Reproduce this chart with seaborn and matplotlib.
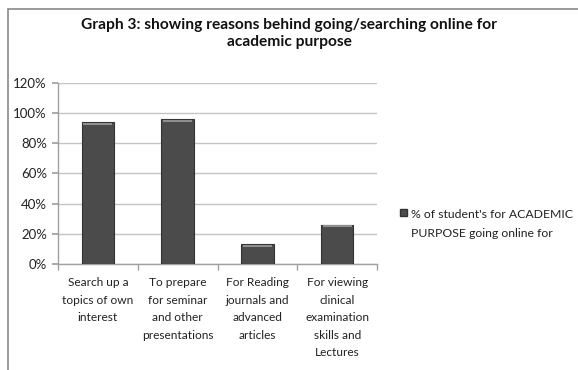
import matplotlib
matplotlib.use("Agg")
import matplotlib.pyplot as plt
import matplotlib.patches as mpatches
from matplotlib.offsetbox import HPacker
from matplotlib.ticker import FixedLocator, FuncFormatter
import seaborn as sns
import pandas as pd

# Reasons students go online for academic purposes
categories = [
    "Search up a\ntopics of own\ninterest",
    "To prepare\nfor seminar\nand other\npresentations",
    "For Reading\njournals and\nadvanced\narticles",
    "For viewing\nclinical\nexamination\nskills and\nLectures",
]
percent = [94, 96, 13, 26]
series_name = "% of student's for ACADEMIC\nPURPOSE going online for"
y_ticks = [0, 20, 40, 60, 80, 100, 120]

df = pd.DataFrame({"reason": categories, "pct": percent})

sns.set_theme(style="white")
plt.rcParams["font.family"] = ["Lato", "DejaVu Sans"]

fig = plt.figure(figsize=(5.78, 3.70), dpi=100)
fig.patch.set_facecolor("white")
ax = fig.add_axes([0.1003, 0.2865, 0.552, 0.4892])

sns.barplot(data=df, x="reason", y="pct", color="#4b4b4b", width=0.41,
            saturation=1, edgecolor="#333333", linewidth=0.8, ax=ax, zorder=3)

# light cap along the top of each bar
for p in ax.patches:
    x0, w, h = p.get_x(), p.get_width(), p.get_height()
    ax.plot([x0 + 0.06 * w, x0 + 0.94 * w], [h - 0.9, h - 0.9],
            color="#8f8f8f", lw=1.5, solid_capstyle="butt", zorder=4)

ax.set_ylim(0, 120)
ax.set_xlim(-0.5, len(categories) - 0.5)
ax.yaxis.set_major_locator(FixedLocator(y_ticks))
ax.yaxis.set_major_formatter(FuncFormatter(lambda v, _: f"{int(v)}%"))
ax.grid(axis="y", color="#c4c4c4", linewidth=1.0, zorder=0)
ax.set_axisbelow(True)

ax.set_xlabel("")
ax.set_ylabel("")
for s in ("top", "right"):
    ax.spines[s].set_visible(False)
for s in ("left", "bottom"):
    ax.spines[s].set_color("#a0a0a0")
    ax.spines[s].set_linewidth(1.0)

# category labels centred, ticks at category boundaries
ax.set_xticks(range(len(categories)))
ax.set_xticklabels(categories, fontsize=8.6, color="#222222", linespacing=1.72,
                   va="top")
ax.set_xticks([i - 0.5 for i in range(len(categories) + 1)], minor=True)
ax.tick_params(axis="x", which="major", length=0, pad=9.5)
ax.tick_params(axis="x", which="minor", length=4, color="#a0a0a0", direction="out",
               bottom=True)
ax.tick_params(axis="y", length=4, color="#a0a0a0", direction="out", left=True,
               labelsize=9.5, labelcolor="#222222", pad=4)

# legend on the right, marker level with the first text line
handle = mpatches.Patch(facecolor="#4b4b4b", edgecolor="#333333", label=series_name)
leg = fig.legend(handles=[handle], loc="center left", bbox_to_anchor=(0.683, 0.395),
                 frameon=False, fontsize=8.8, handlelength=0.6, handleheight=0.6,
                 handletextpad=0.35, borderaxespad=0)
for t in leg.get_texts():
    t.set_color("#222222")
    t.set_linespacing(1.95)
for hp in leg.findobj(HPacker):
    hp.align = "top"

fig.suptitle("Graph 3: showing reasons behind going/searching online for\nacademic purpose",
             x=0.5, y=0.952, fontsize=11.2, fontweight="bold", color="#111111",
             linespacing=1.25)

# chart area frame
frame = mpatches.Rectangle((8 / 578, -0.1), 1.2, 1 - 9 / 370 + 0.1,
                           transform=fig.transFigure, fill=False,
                           edgecolor="#8a8a8a", linewidth=1.2)
fig.patches.append(frame)

fig.savefig("out.png", dpi=100)
